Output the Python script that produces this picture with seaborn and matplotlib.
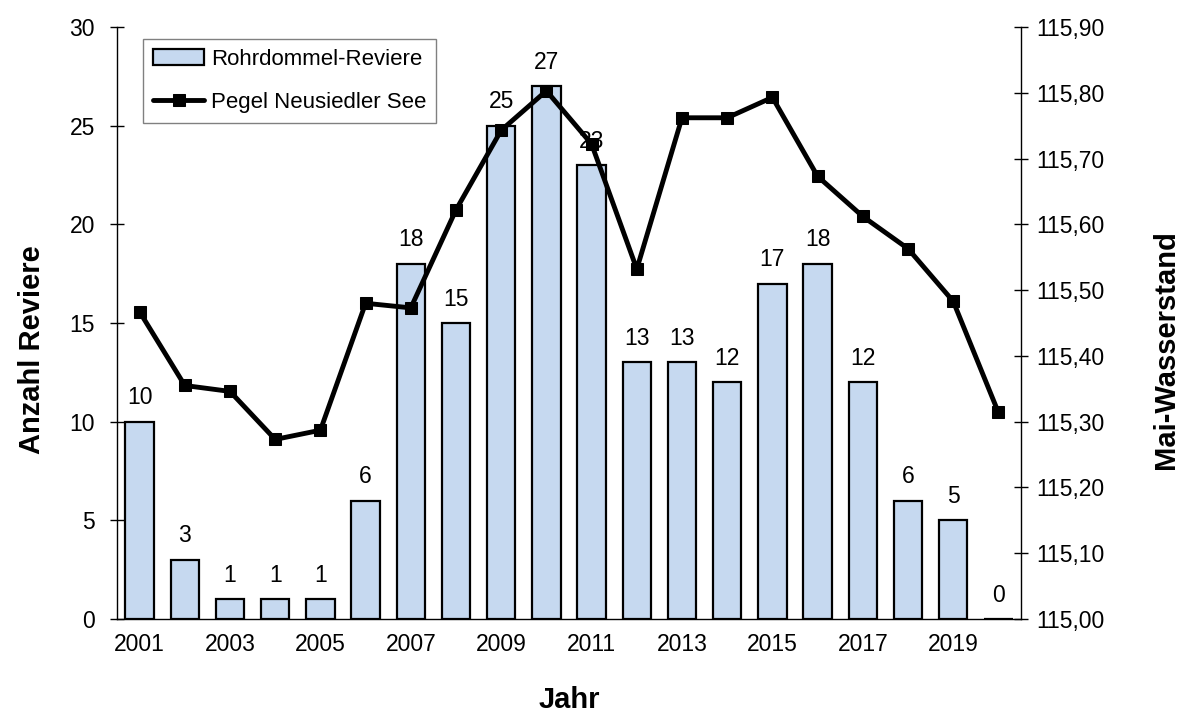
import numpy as np
import pandas as pd
import matplotlib
matplotlib.use('Agg')
import matplotlib.pyplot as plt
import seaborn as sns
from matplotlib.ticker import FuncFormatter, MultipleLocator

# values
years = list(range(2001, 2021))
reviere = [10, 3, 1, 1, 1, 6, 18, 15, 25, 27, 23, 13, 13, 12, 17, 18, 12, 6, 5, 0]
pegel = [115.467, 115.355, 115.346, 115.273, 115.287, 115.480, 115.473, 115.622, 115.743, 115.803,
         115.722, 115.532, 115.762, 115.762, 115.793, 115.673, 115.612, 115.563, 115.483, 115.314]
xtick_years = [str(y) for y in years[::2]]

sns.set_theme(style='white')
plt.rcParams['font.family'] = ['Liberation Sans', 'DejaVu Sans']
plt.rcParams.update({'text.color': 'black', 'axes.labelcolor': 'black',
                     'xtick.color': 'black', 'ytick.color': 'black'})

df = pd.DataFrame({'Jahr': [str(y) for y in years], 'Reviere': reviere, 'Pegel': pegel})
df['pos'] = np.arange(len(df))

fig = plt.figure(figsize=(11.92, 7.16), dpi=100)
ax = fig.add_axes([117/1192, 1 - 619/716, 904/1192, 592/716])

sns.barplot(data=df, x='Jahr', y='Reviere', color='#C6D9F0', saturation=1,
            edgecolor='black', linewidth=1.6, width=0.63, label='Rohrdommel-Reviere', ax=ax)
ax.bar_label(ax.containers[0], fmt='%d', padding=9, fontsize=16.5, color='black')
if ax.get_legend() is not None:
    ax.get_legend().remove()

ax2 = ax.twinx()
sns.lineplot(data=df, x='pos', y='Pegel', ax=ax2, color='black', linewidth=3.5,
             marker='s', markersize=9, markeredgecolor='black', label='Pegel Neusiedler See')

ax.set_xlim(-0.5, len(years) - 0.5)
ax.set_ylim(0, 30)
ax2.set_ylim(115.0, 115.9)

ax.yaxis.set_major_locator(MultipleLocator(5))
ax2.yaxis.set_major_locator(MultipleLocator(0.1))
ax2.yaxis.set_major_formatter(FuncFormatter(lambda v, p: f'{v:.2f}'.replace('.', ',')))

ax.set_xticks(range(0, len(years), 2), labels=xtick_years)
ax.set_xticks(np.arange(-0.5, len(years)), minor=True)
ax.tick_params(axis='x', which='major', length=0, pad=10, labelsize=16.5)
ax.tick_params(axis='x', which='minor', direction='inout', length=10, width=1)
ax.tick_params(axis='y', direction='inout', length=10, width=1, pad=11, labelsize=16.5, left=True)
ax2.tick_params(axis='y', direction='inout', length=10, width=1, pad=6, labelsize=16.5, right=True)

for a in (ax, ax2):
    for s in a.spines.values():
        s.set_color('black')
        s.set_linewidth(1)
    a.spines['top'].set_visible(False)
ax.spines['right'].set_visible(False)
ax2.spines['left'].set_visible(False)
ax2.spines['bottom'].set_visible(False)

ax.set_xlabel('Jahr', fontsize=21, fontweight='bold', labelpad=22)
ax.set_ylabel('Anzahl Reviere', fontsize=21, fontweight='bold', labelpad=17)
ax2.set_ylabel('Mai-Wasserstand', fontsize=21, fontweight='bold', labelpad=34, rotation=90)
ax.yaxis.label.set_y(0.455)
ax2.yaxis.label.set_y(0.455)

h1, l1 = ax.get_legend_handles_labels()
h2, l2 = ax2.get_legend_handles_labels()
leg = ax2.legend(h1 + h2, l1 + l2, loc='upper left', bbox_to_anchor=(0.029, 0.98),
                 borderaxespad=0, frameon=True, fancybox=False, edgecolor='#808080',
                 fontsize=16, handlelength=2.3, handletextpad=0.3, borderpad=0.45,
                 labelspacing=1.0, framealpha=1)
leg.get_frame().set_linewidth(1)

fig.savefig('out.png', dpi=100)
